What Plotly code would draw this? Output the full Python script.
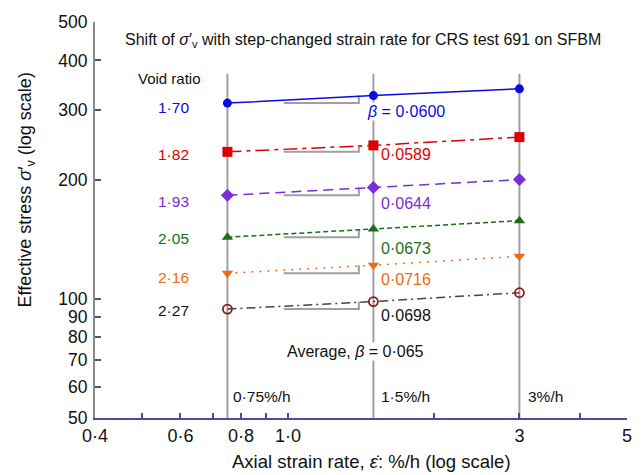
import math
import plotly.graph_objects as go

# ---- data ----
rates = [0.75, 1.5, 3.0]
void_ratios = ["1·70", "1·82", "1·93", "2·05", "2·16", "2·27"]
betas = ["<i>β</i> = 0·0600", "0·0589", "0·0644", "0·0673", "0·0716", "0·0698"]
stress_170 = [312, 326, 339]
stress_182 = [235, 244, 256]
stress_193 = [182.5, 191, 200]
stress_205 = [143, 150, 157.5]
stress_216 = [116, 121.5, 128]
stress_227 = [94.2, 98.4, 103.6]
series = [stress_170, stress_182, stress_193, stress_205, stress_216, stress_227]

x_ticks = [0.4, 0.5, 0.6, 0.7, 0.8, 0.9, 1, 2, 3, 4, 5]
x_ticktext = ["0·4", "", "0·6", "", "0·8", "", "1·0", "", "3", "", "5"]
y_ticks = [50, 60, 70, 80, 90, 100, 200, 300, 400, 500]
y_ticktext = ["50", "60", "70", "80", "90", "100", "200", "300", "400", "500"]
rate_labels = ["0·75%/h", "1·5%/h", "3%/h"]

# ---- styles ----
colors = ["#0a0ae6", "#e00000", "#7a2ed6", "#1a6e1a", "#f06a14", "#444444"]
text_colors = ["#0a0ae6", "#e00000", "#7a2ed6", "#1a6e1a", "#f06a14", "#111111"]
dashes = ["solid", "14px,5px,4px,5px", "10px,6px", "5px,3px", "2px,6px", "9px,4px,2px,4px"]
symbols = ["circle", "square", "diamond", "triangle-up", "triangle-down", "circle-open"]
msizes = [9, 10, 10, 10, 10, 9]
mcolors = ["#0a0ae6", "#e00000", "#7a2ed6", "#1a6e1a", "#f06a14", "#8b1a1a"]
FONT = "Liberation Sans, Arial, sans-serif"
GRAY = "#a0a0a0"

fig = go.Figure()

# vertical rate lines
vline_top = 370
for r in rates:
    fig.add_trace(go.Scatter(x=[r, r], y=[50, vline_top], mode="lines",
                             line=dict(color=GRAY, width=2), hoverinfo="skip",
                             showlegend=False))

# step brackets (shift between first and second rate)
bracket_x0, bracket_x1 = 0.98, 1.40
for s in series:
    fig.add_trace(go.Scatter(x=[bracket_x0, bracket_x1, bracket_x1],
                             y=[s[0], s[0], s[1]], mode="lines",
                             line=dict(color=GRAY, width=2), hoverinfo="skip",
                             showlegend=False))

# data series
for i, s in enumerate(series):
    mk = dict(symbol=symbols[i], size=msizes[i], color=mcolors[i])
    if symbols[i] == "circle-open":
        mk["line"] = dict(color=mcolors[i], width=1.8)
    fig.add_trace(go.Scatter(x=rates, y=s, mode="lines+markers",
                             line=dict(color=colors[i], width=1.5, dash=dashes[i]),
                             marker=mk, showlegend=False))

L = math.log10
ann = []

def txt(x, y, text, color="#111111", size=14, xanchor="center", bg=None, **kw):
    d = dict(x=L(x), y=L(y), xref="x", yref="y", text=text, showarrow=False,
             font=dict(family=FONT, size=size, color=color), xanchor=xanchor,
             yanchor="middle")
    if bg:
        d["bgcolor"] = bg
        d["borderpad"] = 0
    d.update(kw)
    ann.append(d)

# void ratio labels
txt(0.569, 359, "Void ratio", size=15)
void_label_y = [305, 232, 176.5, 142, 113, 93.3]
for i, v in enumerate(void_ratios):
    txt(0.582, void_label_y[i], v, color=text_colors[i], size=15.5)

# beta labels
beta_label_y = [297, 232, 174, 134, 112, 90.6]
beta_label_x = [1.445, 1.543, 1.543, 1.543, 1.543, 1.543]
for i, b in enumerate(betas):
    txt(beta_label_x[i], beta_label_y[i], b, color=text_colors[i], size=16,
        xanchor="left", bg="white" if i == 0 else None)

txt(1.375, 73.4, "Average, <i>β</i> = 0·065", size=16, bg="white")

rate_label_x = [0.762, 1.543, 3.095]
for i, t in enumerate(rate_labels):
    txt(rate_label_x[i], 56.5, t, size=15.5, xanchor="left")

# title & axis titles
ann.append(dict(x=0.504, y=0.953, xref="paper", yref="paper", showarrow=False,
                text="Shift of <i>σ</i>′<sub>v</sub> with step-changed strain rate for CRS test 691 on SFBM",
                font=dict(family=FONT, size=16, color="#111111"),
                xanchor="center", yanchor="middle"))
ann.append(dict(x=-0.128, y=0.577, xref="paper", yref="paper", showarrow=False,
                text="Effective stress <i>σ</i>′<sub>v</sub> (log scale)", textangle=-90,
                font=dict(family=FONT, size=18, color="#111111"),
                xanchor="center", yanchor="middle"))
ann.append(dict(x=0.519, y=-0.11, xref="paper", yref="paper", showarrow=False,
                text="Axial strain rate, <i>ε̇</i>: %/h (log scale)",
                font=dict(family=FONT, size=18.5, color="#111111"),
                xanchor="center", yanchor="middle"))

fig.update_layout(
    width=644, height=475,
    margin=dict(l=95, r=12, t=18, b=57),
    paper_bgcolor="white", plot_bgcolor="white",
    annotations=ann,
    xaxis=dict(type="log", range=[L(0.4), L(5)], tickvals=x_ticks, ticktext=x_ticktext,
               ticks="inside", ticklen=5, tickwidth=1.5, tickcolor="#4b4ba0",
               showline=True, linecolor="#4b4ba0", linewidth=2, showgrid=False,
               zeroline=False, tickfont=dict(family=FONT, size=18, color="#111111")),
    yaxis=dict(type="log", range=[L(50), L(500)], tickvals=y_ticks, ticktext=y_ticktext,
               ticks="inside", ticklen=6, tickwidth=1.5, tickcolor="#555555",
               showline=True, linecolor="#8a8a8a", linewidth=2, showgrid=False,
               zeroline=False, ticklabelstandoff=2,
               tickfont=dict(family=FONT, size=17.5, color="#111111")),
)

fig.write_html("out.html")
